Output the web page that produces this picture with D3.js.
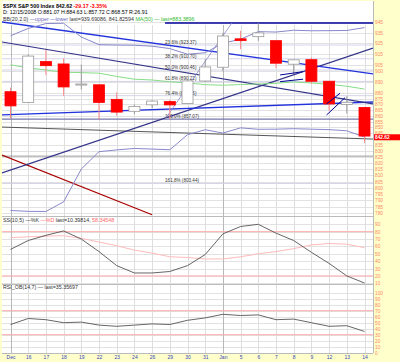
<!DOCTYPE html>
<html><head><meta charset="utf-8">
<script src="https://cdn.jsdelivr.net/npm/d3@7"></script>
<style>body{margin:0;background:#ffffcc;}svg{display:block;}</style>
</head><body>
<script>
// ---------- data ----------
const dateLabels = ["Dec","16","17","18","19","22","23","24","26","29","30","31","Jan","5","6","7","8","9","12","13","14"];
const monthStartIdx = [0, 12];
const prevClose = 879.73;
const opens  = [881.07,871.53,908.16,905.98,886.96,887.20,874.31,863.87,869.51,872.37,870.58,890.59,902.99,929.17,931.17,927.45,905.73,909.91,890.40,869.79,867.28];
const highs  = [884.63,914.66,918.85,911.02,905.47,887.37,880.44,869.79,873.74,873.70,891.12,910.32,934.73,936.63,943.85,927.45,910.00,911.93,890.40,877.02,867.28];
const lows   = [857.72,871.53,895.94,877.44,883.02,857.09,860.10,861.44,866.52,857.07,870.58,889.67,899.35,919.53,927.28,902.37,896.81,888.31,864.32,862.02,836.93];
const closes = [868.57,913.18,904.42,885.28,887.88,871.63,863.16,868.15,872.80,869.42,890.64,903.25,931.80,927.45,934.70,906.65,909.73,890.35,870.26,871.79,842.62];
const bbUpper = [932.0,938.9,943.5,943.8,930.8,923.7,923.4,923.2,922.3,920.1,914.9,916.2,925.1,928.8,935.9,935.5,937.2,936.7,936.8,937.0,939.7];
const bbLower = [781.9,781.2,781.1,788.7,815.2,829.5,831.0,832.2,831.7,831.1,843.8,848.0,845.2,849.6,848.4,848.5,848.9,848.5,848.1,847.1,841.8];
const ma50 = [905.2,902.4,900.5,898.5,898.1,897.6,894.7,892.2,891.5,889.9,888.9,887.3,886.8,887.4,887.9,888.5,889.8,888.8,887.6,885.9,883.4];
const stochK = [56,68,75,81,70,53,34,24,24,26,34,49,77,87,90,78,68,52,37,20,10.4];
const stochD = [72,73,74,74.5,71,66,61,55,51,46,45,43,43,46,50,53,57,62,64,63,58.3];
const rsi = [47,57,55,50,51,46,44,46,48,47,54,58,64,62,63,55,56,50,44,45,35.4];
const priceTicks = [945,935,925,915,905,900,890,880,875,870,865,860,855,850,845,835,830,825,820,815,810,805,800,795,790,785,780];
const stochTicks = [10,20,30,40,50,60,70,80,90];
const rsiTicks = [0,10,20,30,40,50,60,70,80,90,100];
const fibPct = ["23.6%","38.2%","50.0%","61.8%","76.4%","100.0%","161.8%"];
const fibLevels = [923.37,910.70,900.46,890.22,877.55,857.07,803.44];
// trendlines: [startIdx, startPrice, endIdx, endPrice]
const trendHorizontal = [8.73, 944.0, 20.48, 944.0];
const trendBlue1 = [-0.48, 945.0, 20.48, 896.9];
const trendNavy1 = [-0.48, 926.2, 20.48, 870.3];
const trendBlue2 = [-0.48, 860.7, 20.48, 872.0];
const trendNavy2 = [-0.48, 812.0, 20.48, 920.6];
const trendRed = [-0.48, 826.7, 8.0, 778.6];
const trendGray = [-0.48, 850.3, 20.48, 840.1];
const trendGrayFlat = [-0.48, 825.8, 20.48, 825.8];
const trendThin = [8.73, 857.0, 12.5, 944.0];
const shortMarks = [
  [15.23, 896.0, 16.53, 899.0],
  [15.23, 890.0, 16.53, 892.2],
  [17.86, 870.3, 18.62, 879.7],
  [17.86, 860.7, 18.90, 875.8]
];
const lastPrice = 842.62;

// ---------- layout ----------
const W = 400, H = 362;
const L = 2, R = 373, T = 1;
const mainB = 216, ssB = 284, rsiB = 353;
const font = "Liberation Sans, Arial, sans-serif";

const svg = d3.select("body").append("svg").attr("width", W).attr("height", H);
svg.append("rect").attr("width", W).attr("height", H).attr("fill", "#ffffcc");
svg.append("rect").attr("x", L).attr("y", T).attr("width", R - L).attr("height", rsiB - T).attr("fill", "#fff");

const x = d3.scaleLinear().domain([0, 20]).range([10.5, 364.5]);
const yP = d3.scaleLog().domain([780, 945]).range([212.9, 22]);
const yS = d3.scaleLinear().domain([10, 90]).range([283.3, 224.3]);
const yR = d3.scaleLinear().domain([0, 100]).range([352.7, 292.7]);

const defs = svg.append("defs");
defs.append("clipPath").attr("id", "cm").append("rect").attr("x", L).attr("y", T).attr("width", R - L).attr("height", mainB - T);
defs.append("clipPath").attr("id", "cs").append("rect").attr("x", L).attr("y", mainB).attr("width", R - L).attr("height", ssB - mainB);
defs.append("clipPath").attr("id", "cr").append("rect").attr("x", L).attr("y", ssB).attr("width", R - L).attr("height", rsiB - ssB);

const idx = d3.range(dateLabels.length);

// ---------- grids ----------
const grid = svg.append("g");
function hgrid(ticks, scale, y0, y1) {
  grid.selectAll(null).data(ticks.filter(t => scale(t) > y0 + 1 && scale(t) < y1 - 0.5)).enter().append("line")
    .attr("x1", L).attr("x2", R).attr("y1", d => Math.round(scale(d)) + 0.5).attr("y2", d => Math.round(scale(d)) + 0.5)
    .attr("stroke", "#e2e2e2").attr("stroke-width", 1);
}
hgrid(priceTicks, yP, T, mainB);
hgrid(stochTicks, yS, mainB, ssB);
hgrid(rsiTicks, yR, ssB, rsiB);
grid.selectAll(null).data(idx).enter().append("line")
  .attr("x1", d => Math.round(x(d)) + 0.5).attr("x2", d => Math.round(x(d)) + 0.5)
  .attr("y1", T + 24).attr("y2", rsiB)
  .attr("stroke", d => monthStartIdx.includes(d) ? "#b8b8b8" : "#dedede").attr("stroke-width", 1);
[mainB, ssB].forEach(yy => svg.append("line").attr("x1", L).attr("x2", R).attr("y1", yy + 0.5).attr("y2", yy + 0.5).attr("stroke", "#bbb"));
svg.append("line").attr("x1", R + 0.5).attr("x2", R + 0.5).attr("y1", T).attr("y2", rsiB).attr("stroke", "#bbb");
svg.append("line").attr("x1", L).attr("x2", R).attr("y1", rsiB + 0.5).attr("y2", rsiB + 0.5).attr("stroke", "#bbb");

// ---------- main panel ----------
const gm = svg.append("g").attr("clip-path", "url(#cm)");
const lineP = (arr) => d3.line().x((d, i) => x(i)).y(d => yP(d))(arr);

gm.selectAll(null).data(fibLevels).enter().append("line")
  .attr("x1", L).attr("x2", R).attr("y1", d => yP(d)).attr("y2", d => yP(d))
  .attr("stroke", (d, i) => i === 5 ? "#7777aa" : "#d4d4e8").attr("stroke-width", (d, i) => i === 5 ? 1.2 : 1);
gm.selectAll(null).data(fibLevels).enter().append("text")
  .attr("x", x(8.73)).attr("y", d => yP(d) - 1)
  .attr("font-family", font).attr("font-size", 4.6).attr("fill", "#333")
  .text((d, i) => fibPct[i] + " (" + d.toFixed(2) + ")");

function trend(t, color, w) {
  gm.append("line").attr("x1", x(t[0])).attr("y1", yP(t[1])).attr("x2", x(t[2])).attr("y2", yP(t[3]))
    .attr("stroke", color).attr("stroke-width", w);
}
trend(trendGrayFlat, "#999", 1);
trend(trendGray, "#555", 1);
trend(trendRed, "#aa0000", 1.2);
trend(trendNavy2, "#333388", 1.2);
trend(trendBlue2, "#2233dd", 1.3);
trend(trendNavy1, "#333388", 1.2);
trend(trendBlue1, "#2233dd", 1.3);
trend(trendHorizontal, "#000099", 1.6);
trend(trendThin, "#8888cc", 0.8);

gm.append("path").attr("d", lineP(ma50)).attr("fill", "none").attr("stroke", "#88dd88").attr("stroke-width", 1);
gm.append("path").attr("d", lineP(bbUpper)).attr("fill", "none").attr("stroke", "#8888cc").attr("stroke-width", 1);
gm.append("path").attr("d", lineP(bbLower)).attr("fill", "none").attr("stroke", "#8888cc").attr("stroke-width", 1);

const bw = 11;
const candles = gm.selectAll(null).data(idx).enter().append("g");
const isRed = i => closes[i] < (i === 0 ? prevClose : closes[i - 1]);
const filled = i => closes[i] < opens[i];
candles.append("line")
  .attr("x1", i => x(i)).attr("x2", i => x(i)).attr("y1", i => yP(highs[i])).attr("y2", i => yP(lows[i]))
  .attr("stroke", i => isRed(i) ? "#ff8888" : "#999").attr("stroke-width", 1);
candles.append("rect")
  .attr("x", i => x(i) - bw / 2).attr("width", bw)
  .attr("y", i => yP(Math.max(opens[i], closes[i])))
  .attr("height", i => Math.max(1, Math.abs(yP(opens[i]) - yP(closes[i]))))
  .attr("fill", i => filled(i) ? (isRed(i) ? "#ff0000" : "#888") : "#fff")
  .attr("stroke", i => filled(i) ? (isRed(i) ? "#ff0000" : "#888") : (isRed(i) ? "#ff0000" : "#999"))
  .attr("stroke-width", 0.8);

shortMarks.forEach(t => trend(t, "#000099", 1));

// ---------- stoch panel ----------
const gs = svg.append("g").attr("clip-path", "url(#cs)");
[80, 20].forEach(v => gs.append("line").attr("x1", L).attr("x2", R).attr("y1", yS(v)).attr("y2", yS(v)).attr("stroke", "#ffaaaa"));
gs.append("path").attr("d", d3.line().x((d, i) => x(i)).y(d => yS(d))(stochD)).attr("fill", "none").attr("stroke", "#ffbbbb").attr("stroke-width", 1);
gs.append("path").attr("d", d3.line().x((d, i) => x(i)).y(d => yS(d))(stochK)).attr("fill", "none").attr("stroke", "#555").attr("stroke-width", 0.9);

// ---------- rsi panel ----------
const gr = svg.append("g").attr("clip-path", "url(#cr)");
[70, 30].forEach(v => gr.append("line").attr("x1", L).attr("x2", R).attr("y1", yR(v)).attr("y2", yR(v)).attr("stroke", "#ffaaaa"));
gr.append("path").attr("d", d3.line().x((d, i) => x(i)).y(d => yR(d))(rsi)).attr("fill", "none").attr("stroke", "#555").attr("stroke-width", 0.9);

// ---------- axes ----------
function rightAxis(scale, ticks) {
  const g = svg.append("g").attr("transform", `translate(${R},0)`)
    .call(d3.axisRight(scale).tickValues(ticks).tickSize(0).tickPadding(2).tickFormat(d3.format("d")));
  g.select(".domain").remove();
  g.selectAll("text").attr("font-family", font).attr("font-size", 4.8).attr("fill", "#ff8866");
}
rightAxis(yP, priceTicks);
rightAxis(yS, stochTicks);
rightAxis(yR, rsiTicks);

const xa = svg.append("g").attr("transform", `translate(0,${rsiB})`)
  .call(d3.axisBottom(x).tickValues(idx).tickSize(0).tickPadding(2).tickFormat(i => dateLabels[i]));
xa.select(".domain").remove();
xa.selectAll("text").attr("font-family", font).attr("font-size", 5).attr("fill", "#3344bb");

// last price box
const ly = yP(lastPrice);
svg.append("rect").attr("x", R + 1).attr("y", ly - 1.8).attr("width", W - R - 1).attr("height", 6).attr("fill", "#ff0000");
svg.append("text").attr("x", R + 2).attr("y", ly + 3).attr("font-family", font).attr("font-size", 4.8).attr("font-weight", "bold").attr("fill", "#fff").text(lastPrice.toFixed(2));

// ---------- header text ----------
function textLine(yy, parts) {
  const t = svg.append("text").attr("x", 3).attr("y", yy).attr("font-family", font).attr("font-size", 5.3);
  parts.forEach(p => t.append("tspan").attr("fill", p[1]).attr("font-weight", p[2] || "normal").text(p[0]));
}
textLine(7.5, [["$SPX S&P 500 Index ", "#000", "bold"], [lastPrice.toFixed(2) + "  ", "#000", "bold"], ["-29.17  -3.35%", "#ff0000", "bold"]]);
textLine(14, [["D: 12/15/2008 O:881.07 H:884.63 L:857.72 C:868.57 R:26.91", "#000"]]);
textLine(20.5, [["BB(20,2.0) ", "#333"], ["\u2014upper \u2014lower ", "#6666bb"], ["last=939.69086, 841.82594 ", "#333"], ["MA(50) \u2014 last=883.3896", "#33bb33"]]);
textLine(221.5, [["SS(10,5) ", "#333"], ["\u2014%K ", "#333"], ["\u2014%D ", "#ff6666"], ["last=10.39814, ", "#333"], ["58.34548", "#ff6666"]]);
textLine(289, [["RSI_OB(14,7) \u2014 last=35.35697", "#333"]]);
</script>
</body></html>
